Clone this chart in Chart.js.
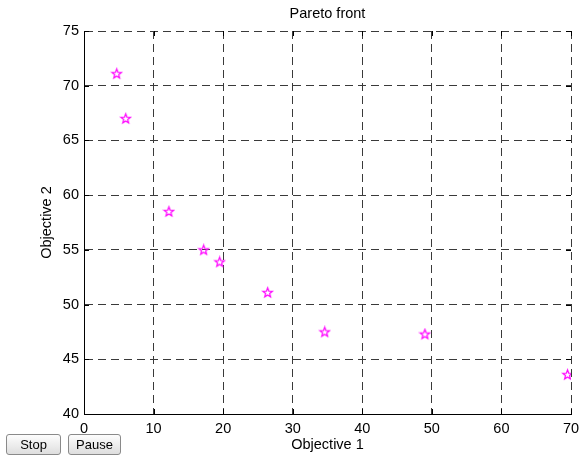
<!DOCTYPE html>
<html>
<head>
<meta charset="utf-8">
<script src="https://cdn.jsdelivr.net/npm/chart.js@4"></script>
<style>
    body { margin: 0; background: #fff; }
    #wrap { position: relative; width: 579px; height: 456px; }
    .btn {
        position: absolute;
        top: 434px;
        height: 21px;
        font-family: "Liberation Sans", Arial, sans-serif;
        font-size: 13px;
        color: #000;
        background: linear-gradient(#fdfdfd, #dedede);
        border: 1px solid #8a8a8a;
        border-radius: 3px;
        padding: 0;
    }
</style>
</head>
<body>
<div id="wrap">
    <canvas id="paretoChart" width="579" height="456"></canvas>
    <button class="btn" style="left:6px;width:55px;">Stop</button>
    <button class="btn" style="left:68px;width:53px;">Pause</button>
</div>
<script>
// values
var objective_1 = [4.7, 6.0, 12.2, 17.2, 19.5, 26.4, 34.6, 49.0, 69.5];
var objective_2 = [71.1, 67.0, 58.5, 55.0, 53.9, 51.1, 47.5, 47.3, 43.6];
var x_ticks = [0, 10, 20, 30, 40, 50, 60, 70];
var y_ticks = [40, 45, 50, 55, 60, 65, 70, 75];

var fontFamily = '"Liberation Sans", Arial, Helvetica, sans-serif';
Chart.defaults.font.family = fontFamily;
Chart.defaults.font.size = 14.5;
Chart.defaults.color = "#000";

// five point star marker (matlab "p")
function makeStar() {
    var c = document.createElement("canvas");
    c.width = 13;
    c.height = 13;
    var g = c.getContext("2d");
    var cx = 6.5, cy = 6.8, r1 = 5, r2 = 2.1;
    g.beginPath();
    for (let i = 0; i < 10; i++) {
        var r = i % 2 === 0 ? r1 : r2;
        var a = -Math.PI / 2 + i * Math.PI / 5;
        var px = cx + r * Math.cos(a);
        var py = cy + r * Math.sin(a);
        if (i === 0) g.moveTo(px, py);
        else g.lineTo(px, py);
    }
    g.closePath();
    g.strokeStyle = "#ff00ff";
    g.lineWidth = 1.2;
    g.stroke();
    return c;
}

var points = [];
for (let i = 0; i < objective_1.length; i++) {
    points.push({ x: objective_1[i], y: objective_2[i] });
}

// small solid ticks pointing into the axes box
var innerTicks = {
    id: "innerTicks",
    afterDraw(chart) {
        const ctx = chart.ctx;
        const a = chart.chartArea;
        const xs = chart.scales.x, ys = chart.scales.y;
        ctx.save();
        ctx.strokeStyle = "#000";
        ctx.lineWidth = 1;
        ctx.beginPath();
        x_ticks.forEach(function (v) {
            const px = Math.round(xs.getPixelForValue(v)) + 0.5;
            ctx.moveTo(px, a.bottom);
            ctx.lineTo(px, a.bottom - 5);
            ctx.moveTo(px, a.top);
            ctx.lineTo(px, a.top + 5);
        });
        y_ticks.forEach(function (v) {
            const py = Math.round(ys.getPixelForValue(v)) + 0.5;
            ctx.moveTo(a.left, py);
            ctx.lineTo(a.left + 5, py);
            ctx.moveTo(a.right, py);
            ctx.lineTo(a.right - 5, py);
        });
        ctx.stroke();
        ctx.restore();
    },
};

var ctx = document.getElementById("paretoChart").getContext("2d");
var paretoChart = new Chart(ctx, {
    type: "scatter",
    data: {
        datasets: [{
            label: "Pareto front",
            data: points,
            pointStyle: makeStar(),
            pointRadius: 6,
        }],
    },
    plugins: [innerTicks],
    options: {
        responsive: false,
        animation: false,
        layout: {
            padding: { left: 0, right: 8, top: 0, bottom: 0 },
        },
        scales: {
            x: {
                type: "linear",
                min: 0,
                max: 70,
                afterFit(scale) {
                    scale.height = 42;
                    scale.paddingLeft = 0;
                    scale.paddingRight = 0;
                },
                afterBuildTicks(scale) {
                    scale.ticks = x_ticks.map((v) => ({ value: v }));
                },
                ticks: { padding: 6, maxRotation: 0 },
                grid: { color: "#3a3a3a", lineWidth: 1, drawTicks: false },
                border: { color: "#000", width: 1, dash: [8, 5] },
                title: {
                    display: true,
                    text: "Objective 1",
                    padding: { top: 0, bottom: 2.8 },
                },
            },
            y: {
                type: "linear",
                min: 40,
                max: 75,
                afterFit(scale) { scale.width = 84; },
                afterBuildTicks(scale) {
                    scale.ticks = y_ticks.map((v) => ({ value: v }));
                },
                ticks: { padding: 5 },
                grid: { color: "#3a3a3a", lineWidth: 1, drawTicks: false },
                border: { color: "#000", width: 1, dash: [8, 5] },
                title: {
                    display: true,
                    text: "Objective 2",
                    padding: { top: 38.3, bottom: 0 },
                },
            },
        },
        plugins: {
            legend: { display: false },
            tooltip: { enabled: false },
            title: {
                display: true,
                text: "Pareto front",
                fullSize: false,
                font: { size: 14.5, weight: "normal" },
                color: "#000",
                padding: { top: 5, bottom: 8.6 },
            },
        },
    },
});
</script>
</body>
</html>
